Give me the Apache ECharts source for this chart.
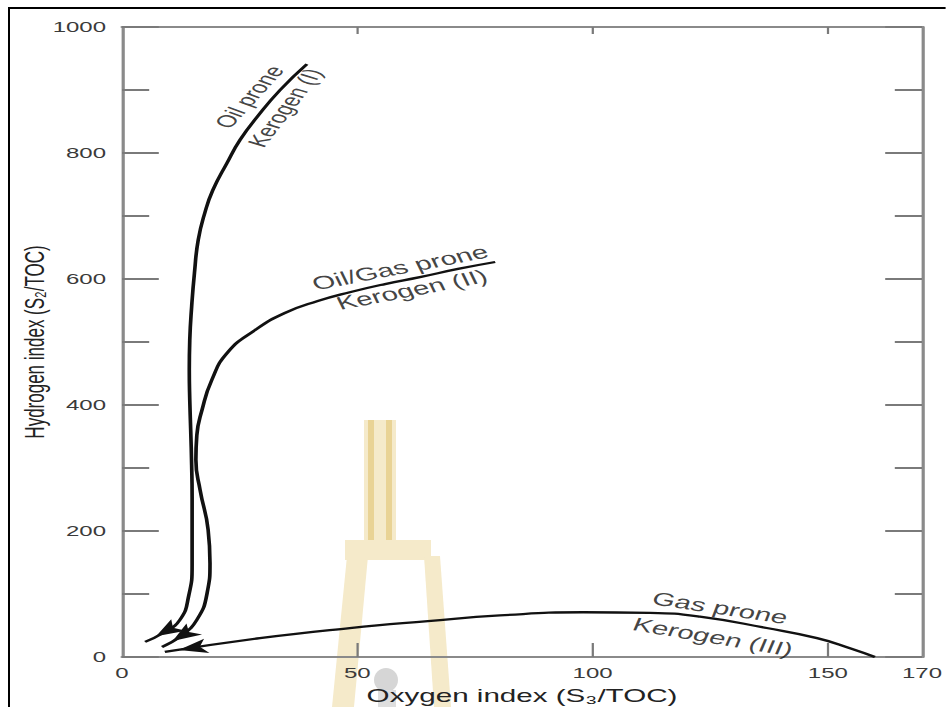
<!DOCTYPE html>
<html>
<head>
<meta charset="utf-8">
<script src="https://cdn.jsdelivr.net/npm/echarts@6/dist/echarts.min.js"></script>
<style>
html,body{margin:0;padding:0;background:#fff;overflow:hidden;}
#wrap{width:946px;height:707px;overflow:hidden;position:relative;background:#fff;}
#chart{width:591.25px;height:707px;transform:scaleX(1.6);transform-origin:0 0;}
</style>
</head>
<body>
<div id="wrap"><div id="chart"></div></div>
<script>
// ---- Data ----
// Kerogen type I path (oxygen index, hydrogen index), from the arrow tip upward
const kerogenI_OI = [4.9, 8.7, 12.3, 14.2, 14.9, 14.9, 14.9, 14.8, 14.6, 14.4, 14.3, 14.4, 14.8, 15.4, 16.2, 17.6, 19.3, 22.3, 25.1, 28.7, 33.6, 39.3];
const kerogenI_HI = [24, 38, 59, 98, 146, 202, 254, 305, 360, 408, 456, 503, 556, 610, 662, 705, 741, 784, 821, 857, 900, 941];
// Kerogen type II path
const kerogenII_OI = [8.5, 12.3, 15.9, 18.1, 18.7, 18.3, 16.6, 15.7, 15.9, 17.0, 19.1, 22.5, 28.3, 34.6, 41.6, 48.4, 55.9, 63.3, 71.4, 79.3];
const kerogenII_HI = [16, 32, 59, 102, 149, 202, 265, 313, 352, 392, 440, 484, 519, 546, 565, 579, 592, 603, 616, 627];
// Kerogen type III path
const kerogenIII_OI = [9.1, 29.3, 48.4, 65, 80.3, 98, 112.2, 122.8, 137, 147.7, 154.7, 160];
const kerogenIII_HI = [8, 30, 46, 57, 66, 71, 70, 64, 46, 30, 14, 0];
// Axis ticks
const xTickLabels = [0, 50, 100, 150, 170];
const xInnerTicks = [50, 100, 150];
const yTickLabels = [0, 200, 400, 600, 800, 1000];
// Curve annotations
const curveLabelTexts = ['Oil prone', 'Kerogen (I)', 'Oil/Gas prone', 'Kerogen (II)', 'Gas prone', 'Kerogen (III)'];
const curveLabelOI = [27.0, 34.6, 59.1, 61.6, 127.1, 125.6];
const curveLabelHI = [889, 872, 618, 583, 78, 32];

// ---- Build chart ----
const FONT = "'Liberation Sans', Arial, Helvetica, sans-serif";
const SX = 1.6; // horizontal stretch of the reference picture
const pairs = (xs, ys) => xs.map((x, i) => [x, ys[i]]);

const labelRot = [60, 64, 17, 17, -13.5, -15];
const labelSize = [17, 17, 18.5, 18.5, 18.5, 18.5];
const arrowRot = [128.7, 131.6, 103.3];
const arrowOff = [[6.9, -5.6], [6.7, -6.0], [8.7, -2.0]];
const curves = [[kerogenI_OI, kerogenI_HI], [kerogenII_OI, kerogenII_HI], [kerogenIII_OI, kerogenIII_HI]];

const axisLineStyle = {color: '#8a8a8a', width: 2};
const tickStyle = {color: '#7a7a7a', width: 2};

const s = v => v / SX;
const gold = '#f5eaca', goldDark = '#e9d395';
const watermark = [
  {type: 'rect', shape: {x: s(364), y: 420, width: s(32), height: 128}, style: {fill: gold}},
  {type: 'rect', shape: {x: s(368), y: 420, width: s(6), height: 128}, style: {fill: goldDark}},
  {type: 'rect', shape: {x: s(386), y: 420, width: s(6), height: 128}, style: {fill: goldDark}},
  {type: 'rect', shape: {x: s(345), y: 540, width: s(86), height: 20}, style: {fill: gold}},
  {type: 'polygon', shape: {points: [[s(347), 556], [s(368), 556], [s(354), 707], [s(332), 707]]}, style: {fill: gold}},
  {type: 'polygon', shape: {points: [[s(424), 556], [s(440), 556], [s(451), 707], [s(434), 707]]}, style: {fill: gold}},
  {type: 'ellipse', shape: {cx: s(386), cy: 680, rx: s(12), ry: 12}, style: {fill: '#d6d6d6'}},
  {type: 'rect', shape: {x: s(378), y: 690, width: s(18), height: 17}, style: {fill: '#dedede'}}
].map(e => Object.assign(e, {z: -5, silent: true}));

const frame = [
  {type: 'line', shape: {x1: s(8), y1: 8, x2: 591.25, y2: 8}, style: {stroke: '#000', lineWidth: 2}},
  {type: 'line', shape: {x1: s(9), y1: 7, x2: s(9), y2: 707}, style: {stroke: '#000', lineWidth: 2 / SX}}
].map(e => Object.assign(e, {z: 10, silent: true}));

const chart = echarts.init(document.getElementById('chart'), null, {renderer: 'svg'});

const option = {
  animation: false,
  backgroundColor: '#fff',
  grid: {left: 76.25, top: 27, width: 500, height: 630, containLabel: false, outerBoundsMode: 'none'},
  xAxis: [
    {
      type: 'value', min: 0, max: 170, interval: 50, position: 'bottom', z: 3,
      axisLine: {show: true, onZero: false, lineStyle: axisLineStyle},
      axisTick: {show: true, inside: true, length: 14, customValues: xInnerTicks, lineStyle: {color: '#7a7a7a', width: 1.4}},
      axisLabel: {show: true, margin: 8, fontSize: 15, color: '#3a3a3a', fontFamily: FONT, customValues: xTickLabels, formatter: v => String(v)},
      splitLine: {show: false},
      name: 'Oxygen index (S₃/TOC)', nameLocation: 'middle', nameGap: 29, nameMoveOverlap: false,
      nameTextStyle: {fontSize: 18.5, color: '#222', fontFamily: FONT}
    },
    {
      type: 'value', min: 0, max: 170, interval: 50, position: 'top', z: 3,
      axisLine: {show: true, onZero: false, lineStyle: axisLineStyle},
      axisTick: {show: true, inside: true, length: 7, customValues: xInnerTicks, lineStyle: {color: '#7a7a7a', width: 1.4}},
      axisLabel: {show: false},
      splitLine: {show: false}
    }
  ],
  yAxis: [
    {
      type: 'value', min: 0, max: 1000, interval: 200, position: 'left', z: 3,
      axisLine: {show: true, onZero: false, lineStyle: axisLineStyle},
      axisTick: {show: true, inside: true, length: 23, lineStyle: tickStyle},
      minorTick: {show: true, splitNumber: 2, length: 17, lineStyle: tickStyle},
      axisLabel: {show: true, margin: 10, fontSize: 15, color: '#3a3a3a', fontFamily: FONT, customValues: yTickLabels, formatter: v => String(v)},
      splitLine: {show: false}, minorSplitLine: {show: false},
      name: 'Hydrogen index (S₂/TOC)', nameLocation: 'middle', nameGap: 46, nameMoveOverlap: false,
      nameTextStyle: {fontSize: 17, color: '#222', fontFamily: FONT}
    },
    {
      type: 'value', min: 0, max: 1000, interval: 200, position: 'right', z: 3,
      axisLine: {show: true, onZero: false, lineStyle: axisLineStyle},
      axisTick: {show: true, inside: true, length: 23, lineStyle: tickStyle},
      minorTick: {show: true, splitNumber: 2, length: 17, lineStyle: tickStyle},
      axisLabel: {show: false},
      splitLine: {show: false}, minorSplitLine: {show: false}
    }
  ],
  graphic: {elements: watermark.concat(frame)},
  series: [
    ...curves.map((c, i) => ({
      type: 'line', name: ['Kerogen (I)', 'Kerogen (II)', 'Kerogen (III)'][i],
      data: pairs(c[0], c[1]), xAxisIndex: 0, yAxisIndex: 0,
      symbol: 'none', showSymbol: false, smooth: 0.5, z: 5, silent: true,
      lineStyle: {color: '#111', width: 2.3},
      emphasis: {disabled: true}
    })),
    {
      type: 'scatter', name: 'arrows', xAxisIndex: 0, yAxisIndex: 0, z: 6, silent: true,
      symbol: 'arrow', symbolSize: [11, 18],
      itemStyle: {color: '#111', opacity: 1},
      emphasis: {disabled: true},
      data: curves.map((c, i) => ({
        value: [c[0][0], c[1][0]], symbolRotate: arrowRot[i], symbolOffset: arrowOff[i]
      }))
    },
    {
      type: 'scatter', name: 'annotations', xAxisIndex: 0, yAxisIndex: 0, z: 7, silent: true,
      symbol: 'circle', symbolSize: 1, itemStyle: {color: 'rgba(0,0,0,0)'},
      emphasis: {disabled: true},
      label: {show: true, position: 'inside', formatter: '{b}', color: '#111', fontFamily: FONT},
      labelLayout: {hideOverlap: false},
      data: curveLabelTexts.map((t, i) => ({
        name: t, value: [curveLabelOI[i], curveLabelHI[i]], label: {rotate: labelRot[i], fontSize: labelSize[i]}
      }))
    }
  ]
};
chart.setOption(option);
</script>
</body>
</html>
